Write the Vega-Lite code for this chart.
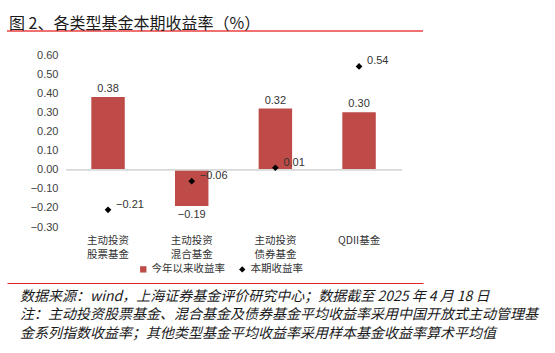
{
  "$schema": "https://vega.github.io/schema/vega-lite/v6.json",
  "autosize": {"type": "none"},
  "padding": {"left": 7, "top": 55, "right": 132, "bottom": 126},
  "width": 416,
  "height": 172,
  "background": "white",
  "title": {"text": "图 2、各类型基金本期收益率（%）", "anchor": "start", "frame": "group", "offset": -2, "fontSize": 16, "font": "Noto Sans CJK SC", "fontWeight": "normal", "color": "#1a1a1a", "dx": 2},
  "config": {"view": {"stroke": null}, "font": "Noto Sans CJK SC"},
  "data": {"values": [
    {"category": "主动投资股票基金", "series": "今年以来收益率", "value": 0.38},
    {"category": "主动投资混合基金", "series": "今年以来收益率", "value": -0.19},
    {"category": "主动投资债券基金", "series": "今年以来收益率", "value": 0.32},
    {"category": "QDII基金", "series": "今年以来收益率", "value": 0.30},
    {"category": "主动投资股票基金", "series": "本期收益率", "value": -0.21},
    {"category": "主动投资混合基金", "series": "本期收益率", "value": -0.06},
    {"category": "主动投资债券基金", "series": "本期收益率", "value": 0.01},
    {"category": "QDII基金", "series": "本期收益率", "value": 0.54}
  ]},
  "layer": [
    {
      "transform": [{"filter": "datum.series === '今年以来收益率'"}],
      "mark": {"type": "bar"},
      "encoding": {
        "x": {"field": "category", "type": "nominal", "sort": null,
          "scale": {"domain": ["主动投资股票基金", "主动投资混合基金", "主动投资债券基金", "QDII基金"], "paddingInner": 0.6, "paddingOuter": 0.786, "align": 0.641},
          "axis": {"orient": "bottom", "offset": 56, "domain": true, "domainColor": "#E02020", "domainWidth": 1, "ticks": false, "tickSize": 0, "labelPadding": -48, "labelBaseline": "top", "labelFontSize": 10.5, "labelFont": "Noto Sans CJK SC", "labelColor": "#333333", "labelLineHeight": 14, "labelAngle": 0,
            "labelExpr": "indexof(datum.label, 'QDII') == 0 ? datum.label : [substring(datum.label, 0, 4), substring(datum.label, 4)]",
            "title": ["数据来源：wind，上海证券基金评价研究中心；数据截至 2025 年 4 月 18 日", "注：主动投资股票基金、混合基金及债券基金平均收益率采用中国开放式主动管理基", "金系列指数收益率；其他类型基金平均收益率采用样本基金收益率算术平均值"],
            "titleX": 12.5, "titleY": 6, "titleAlign": "left", "titleAnchor": null, "titleBaseline": "top", "titleAngle": 0, "titleFontSize": 14, "titleFontWeight": "normal", "titleFontStyle": "italic", "titleFont": "Noto Sans CJK SC", "titleColor": "#1a1a1a", "titleLineHeight": 18.5, "grid": false}},
        "y": {"field": "value", "type": "quantitative",
          "scale": {"domain": [-0.3, 0.6], "nice": false, "zero": false},
          "axis": {"orient": "left", "offset": -53, "domain": false, "ticks": false, "grid": false, "values": [-0.3, -0.2, -0.1, 0, 0.1, 0.2, 0.3, 0.4, 0.5, 0.6], "tickCount": 20, "labelOverlap": false, "labelFlush": false, "format": ".2f", "labelFont": "Liberation Sans", "labelFontSize": 11, "labelColor": "#404040", "labelPadding": 2, "title": null}},
        "color": {"field": "series", "type": "nominal",
          "scale": {"domain": ["今年以来收益率", "本期收益率"], "range": ["#BE4B48", "#000000"]},
          "legend": {"orient": "none", "legendX": 131, "legendY": 209, "direction": "horizontal", "title": null, "labelFontSize": 10.5, "labelFont": "Noto Sans CJK SC", "labelColor": "#333333", "symbolSize": 40, "columnPadding": 12, "labelOffset": 3, "padding": 0,
            "encode": {"symbols": {"update": {"shape": {"signal": "datum.label === '本期收益率' ? 'diamond' : 'square'"}, "fill": {"signal": "datum.label === '本期收益率' ? '#000000' : '#BE4B48'"}, "strokeWidth": {"value": 0}}}}}}
      }
    },
    {
      "mark": {"type": "rule", "color": "#D9D9D9", "strokeWidth": 1},
      "encoding": {
        "x": {"datum": "主动投资股票基金", "type": "nominal", "bandPosition": -0.755},
        "x2": {"datum": "QDII基金", "bandPosition": 1.78},
        "y": {"datum": 0, "type": "quantitative"}
      }
    },
    {
      "mark": {"type": "rule", "color": "#F07070", "strokeWidth": 1.5, "clip": false},
      "encoding": {
        "y": {"datum": 0.726, "type": "quantitative"}
      }
    },
    {
      "transform": [{"filter": "datum.series === '本期收益率'"}],
      "mark": {"type": "point", "shape": "diamond", "filled": true, "size": 45, "opacity": 1},
      "encoding": {
        "x": {"field": "category", "type": "nominal"},
        "y": {"field": "value", "type": "quantitative"},
        "color": {"field": "series", "type": "nominal"}
      }
    },
    {
      "transform": [{"filter": "datum.series === '本期收益率'"}],
      "mark": {"type": "text", "align": "left", "baseline": "middle", "dx": 8, "dy": -5, "fontSize": 11, "font": "Liberation Sans", "color": "#333333"},
      "encoding": {
        "x": {"field": "category", "type": "nominal"},
        "y": {"field": "value", "type": "quantitative"},
        "text": {"field": "value", "type": "quantitative", "format": ".2f"}
      }
    },
    {
      "transform": [{"filter": "datum.series === '今年以来收益率' && datum.value >= 0"}],
      "mark": {"type": "text", "align": "center", "baseline": "bottom", "dy": -3, "fontSize": 11, "font": "Liberation Sans", "color": "#333333"},
      "encoding": {
        "x": {"field": "category", "type": "nominal"},
        "y": {"field": "value", "type": "quantitative"},
        "text": {"field": "value", "type": "quantitative", "format": ".2f"}
      }
    },
    {
      "transform": [{"filter": "datum.series === '今年以来收益率' && datum.value < 0"}],
      "mark": {"type": "text", "align": "center", "baseline": "top", "dy": 3, "fontSize": 11, "font": "Liberation Sans", "color": "#333333"},
      "encoding": {
        "x": {"field": "category", "type": "nominal"},
        "y": {"field": "value", "type": "quantitative"},
        "text": {"field": "value", "type": "quantitative", "format": ".2f"}
      }
    }
  ]
}
